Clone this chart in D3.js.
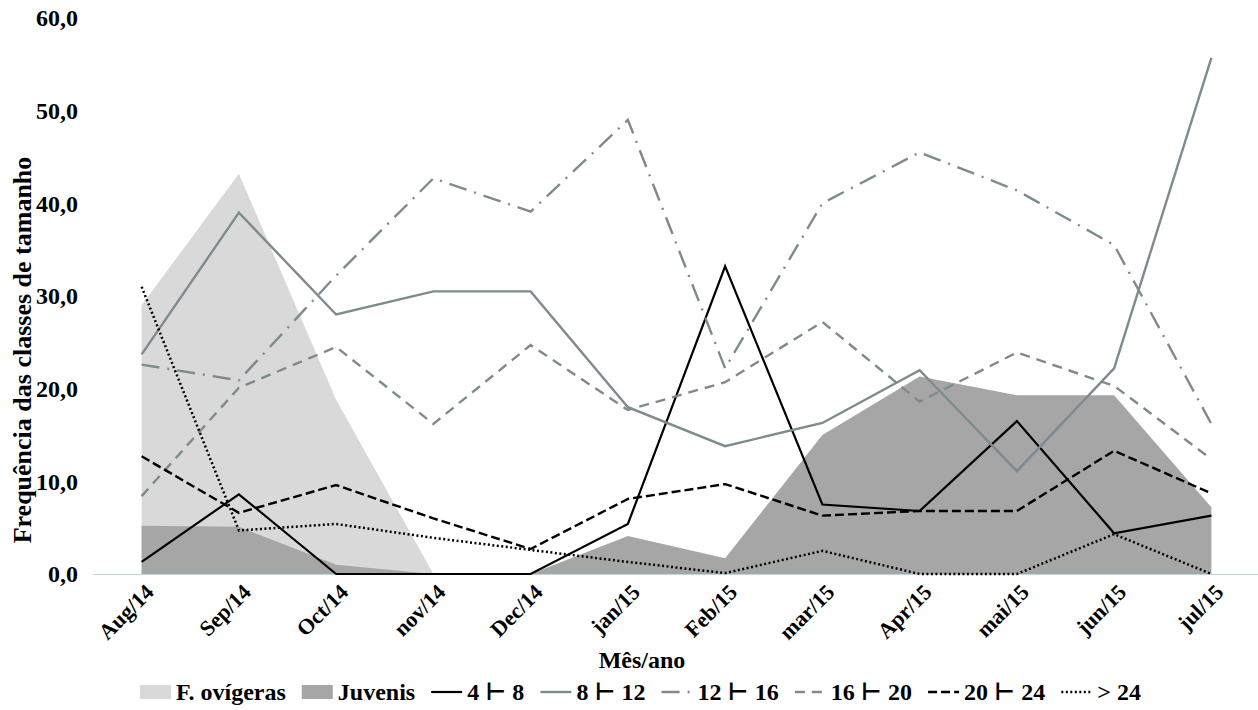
<!DOCTYPE html>
<html><head><meta charset="utf-8">
<script src="https://cdn.jsdelivr.net/npm/d3@7/dist/d3.min.js"></script>
<style>
html,body{margin:0;padding:0;background:#fff;}
svg text{font-family:"Liberation Serif","Times New Roman","Tinos","DejaVu Serif",serif !important;font-weight:700;fill:#000;}
</style></head>
<body><svg id="c" width="1258" height="710"></svg>
<script>
const months = ["Aug/14","Sep/14","Oct/14","nov/14","Dec/14","jan/15","Feb/15","mar/15","Apr/15","mai/15","jun/15","jul/15"];
const yTicks = [0,10,20,30,40,50,60];
const fOvigeras = [29.0,43.2,18.8,0,0,0,0,0,0,0,0,0];
const juvenis   = [5.2,5.1,1.0,0,0,4.1,1.7,15.0,21.3,19.3,19.3,7.2];
const c4_8   = [1.3,8.6,0,0,0,5.4,33.2,7.5,6.8,16.5,4.4,6.3];
const c8_12  = [23.7,39.0,28.0,30.5,30.5,18.0,13.8,16.3,22.0,11.1,22.2,55.7];
const c12_16 = [22.6,20.9,32.2,42.7,39.1,49.0,22.2,40.0,45.5,41.4,35.5,16.2];
const c16_20 = [8.4,20.1,24.5,16.2,24.7,17.7,20.7,27.2,18.6,23.9,20.3,12.4];
const c20_24 = [12.7,6.6,9.6,6.0,2.7,8.1,9.7,6.3,6.8,6.8,13.3,8.7];
const c24    = [31.0,4.7,5.4,3.9,2.6,1.3,0.1,2.5,0,0,4.3,0];
const seriesNames = ["F. ovígeras","Juvenis","4 ⊢ 8","8 ⊢ 12","12 ⊢ 16","16 ⊢ 20","20 ⊢ 24","> 24"];

const FONT = '"Liberation Serif","Times New Roman","Tinos","DejaVu Serif",serif';
const svg = d3.select("#c");
const x = d3.scaleBand().domain(months).range([93,1260]).padding(0);
const cx = m => x(m) + x.bandwidth()/2;
const y = d3.scaleLinear().domain([0,60]).range([574,18]);

const areas = [
  {name:seriesNames[0], vals:fOvigeras, fill:"#d9d9d9"},
  {name:seriesNames[1], vals:juvenis, fill:"#a6a6a6"}
];
const GRAY = "#7d8b8f";
const lines = [
  {name:seriesNames[2], vals:c4_8, color:"#000", w:2.2, dash:null},
  {name:seriesNames[3], vals:c8_12, color:GRAY, w:2.4, dash:null},
  {name:seriesNames[4], vals:c12_16, color:GRAY, w:2.4, dash:"18,8,2,8"},
  {name:seriesNames[5], vals:c16_20, color:GRAY, w:2.4, dash:"10,7"},
  {name:seriesNames[6], vals:c20_24, color:"#000", w:2.4, dash:"9,4"},
  {name:seriesNames[7], vals:c24, color:"#000", w:2.5, dash:"2,2.5"}
];

const area = d3.area().x((d,i)=>cx(months[i])).y0(y(0)).y1(d=>y(d));
areas.forEach(a=>{
  svg.append("path").attr("d", area(a.vals)).attr("fill", a.fill);
});

svg.append("line").attr("x1",93).attr("x2",1258).attr("y1",y(0)+0.5).attr("y2",y(0)+0.5)
  .attr("stroke","#bcd3ea").attr("stroke-width",1);

const line = d3.line().x((d,i)=>cx(months[i])).y(d=>y(d));
lines.forEach(l=>{
  const p = svg.append("path").attr("d", line(l.vals)).attr("fill","none")
    .attr("stroke", l.color).attr("stroke-width", l.w).attr("stroke-linejoin","miter");
  if (l.dash) p.attr("stroke-dasharray", l.dash);
});

// y axis labels
const yAxis = d3.axisLeft(y).tickValues(yTicks).tickSize(0).tickPadding(0)
  .tickFormat(d => d3.format(".1f")(d).replace(".",","));
const gy = svg.append("g").attr("transform","translate(78,0)").call(yAxis)
  .attr("font-family", FONT);
gy.select(".domain").remove();
gy.selectAll("text").attr("font-size",24).attr("font-family",FONT).attr("font-weight","bold").attr("fill","#000");

// x axis labels
const xAxis = d3.axisBottom(x).tickSize(0).tickPadding(0);
const gx = svg.append("g").call(xAxis).attr("font-family", FONT);
gx.select(".domain").remove();
gx.selectAll(".tick").attr("transform", d => `translate(${cx(d)+8},588)`);
gx.selectAll("text").attr("font-size",22).attr("font-family",FONT).attr("font-weight","bold")
  .attr("fill","#000").attr("text-anchor","end").attr("y",0).attr("dy","0.35em").attr("transform","rotate(-45)");

// axis titles
svg.append("text").attr("x",642).attr("y",668).attr("text-anchor","middle").attr("font-size",24).attr("font-family",FONT).text("Mês/ano");
svg.append("text").attr("transform","translate(31,350) rotate(-90)").attr("text-anchor","middle").attr("font-size",26).attr("font-family",FONT).text("Frequência das classes de tamanho");

// legend
const lg = svg.append("g").attr("transform","translate(140,692)");
let lx = 0;
const items = [...areas.map(a=>({type:"area",...a})), ...lines.map(l=>({type:"line",...l}))];
items.forEach(it=>{
  const g = lg.append("g").attr("transform",`translate(${lx},0)`);
  if (it.type==="area") {
    g.append("rect").attr("x",0).attr("y",-7).attr("width",31).attr("height",14).attr("fill",it.fill);
  } else {
    const ln = g.append("line").attr("x1",0).attr("x2",31).attr("y1",0).attr("y2",0)
      .attr("stroke",it.color).attr("stroke-width",it.w);
    if (it.dash) ln.attr("stroke-dasharray", it.dash);
  }
  const t = g.append("text").attr("x",36).attr("y",0).attr("dy","0.35em").attr("font-size",24).attr("font-family",FONT).text(it.name);
  lx += 36 + t.node().getComputedTextLength() + 16;
});
</script></body></html>
